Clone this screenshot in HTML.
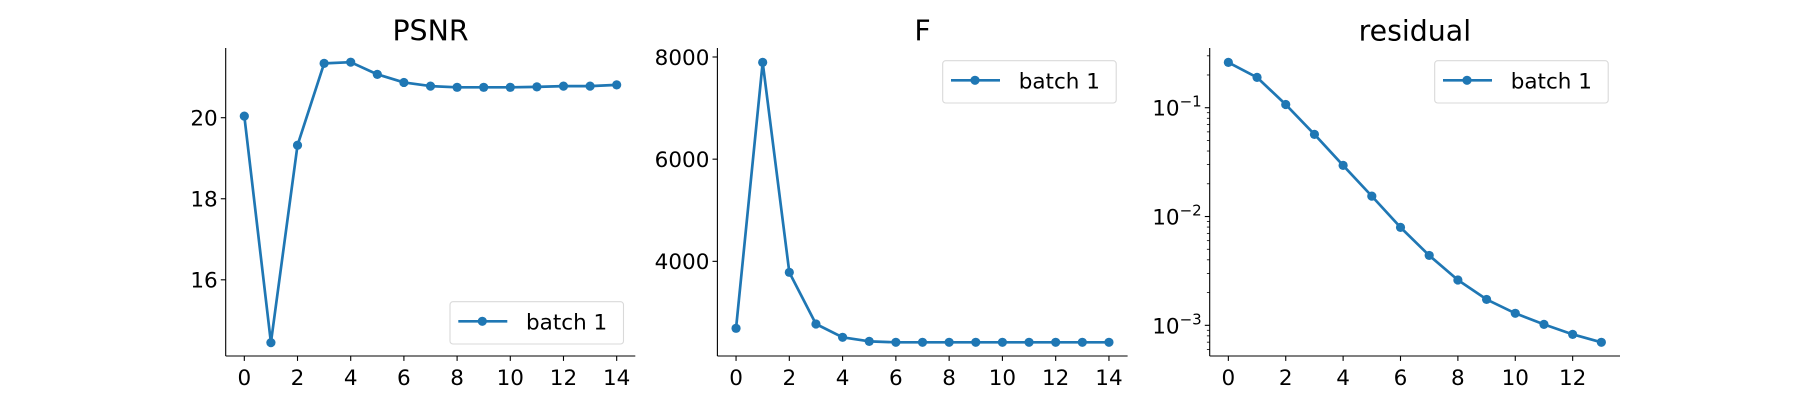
<!DOCTYPE html>
<html><head><meta charset="utf-8"><style>
html,body{margin:0;padding:0;background:#fff;}
svg{display:block;font-family:"DejaVu Sans","Liberation Sans",sans-serif;}
</style></head><body>
<svg id="fig" width="1800" height="400" viewBox="0 0 1800 400" xmlns="http://www.w3.org/2000/svg"></svg>
<script>
const xIdx15 = [0,1,2,3,4,5,6,7,8,9,10,11,12,13,14];
const xIdx14 = [0,1,2,3,4,5,6,7,8,9,10,11,12,13];
const psnrValues = [20.04,14.45,19.32,21.34,21.37,21.07,20.87,20.78,20.75,20.75,20.75,20.76,20.78,20.78,20.81];
const fValues = [2689,7894,3785,2773,2513,2434,2415,2415,2415,2415,2415,2415,2415,2415,2415];
const residualValues = [0.261,0.190,0.107,0.0569,0.0295,0.0154,0.00795,0.00439,0.00261,0.00173,0.00129,0.00102,0.000826,0.000698];
const xTicks15 = [0,2,4,6,8,10,12,14];
const xTicks14 = [0,2,4,6,8,10,12];
const psnrTicks = [16,18,20];
const fTicks = [4000,6000,8000];
const resTicks = [-3,-2,-1];
const seriesName = "batch 1";

const NS="http://www.w3.org/2000/svg";
const svg=document.getElementById('fig');
const C="#1f77b4";
const FS='21.5px';
function el(tag,attrs,parent){const e=document.createElementNS(NS,tag);for(const k in attrs)e.setAttribute(k,attrs[k]);(parent||svg).appendChild(e);return e;}

const TOP=48,BOT=356;
const panels=[
 {name:'psnr',title:'PSNR',x0:225.7,x1:635.3,xmin:-0.7,xmax:14.7,ymin:14.12,ymax:21.72,log:false,xs:xIdx15,ys:psnrValues,xt:xTicks15,yt:psnrTicks,leg:{x:450,y:301.7}},
 {name:'f',title:'F',x0:717.4,x1:1127.6,xmin:-0.7,xmax:14.7,ymin:2147,ymax:8176,log:false,xs:xIdx15,ys:fValues,xt:xTicks15,yt:fTicks,leg:{x:942.7,y:60.7}},
 {name:'residual',title:'residual',x0:1209.7,x1:1620,xmin:-0.65,xmax:13.65,ymin:-3.282,ymax:-0.451,log:true,xs:xIdx14,ys:residualValues,xt:xTicks14,yt:resTicks,leg:{x:1434.7,y:60.7}}
];

panels.forEach(p=>{
  const g=el('g',{});
  
  
  const sx=v=>p.x0+(v-p.xmin)/(p.xmax-p.xmin)*(p.x1-p.x0);
  const sy=v=>{const t=p.log?Math.log10(v):v;return BOT-(t-p.ymin)/(p.ymax-p.ymin)*(BOT-TOP);};
  const syRaw=t=>BOT-(t-p.ymin)/(p.ymax-p.ymin)*(BOT-TOP);
  const tt=el('text',{x:(p.x0+p.x1)/2,y:40.7,'text-anchor':'middle','font-size':'28.4px',fill:'#000'},g);
  tt.textContent=p.title;
  
  
  const ls=el('line',{x1:p.x0,y1:TOP,x2:p.x0,y2:BOT,stroke:'#000','stroke-width':1.1},g);
  
  
  const bs=el('line',{x1:p.x0,y1:BOT,x2:p.x1,y2:BOT,stroke:'#000','stroke-width':1.1},g);
  
  
  p.xt.forEach(v=>{
    const x=sx(v);
    el('line',{x1:x,y1:BOT,x2:x,y2:BOT+4.9,stroke:'#000','stroke-width':1.1},g);
    const t=el('text',{x:x,y:385,'text-anchor':'middle','font-size':FS,fill:'#000'},g);
    t.textContent=v;
    
    
  });
  p.yt.forEach(v=>{
    const y=syRaw(v);
    el('line',{x1:p.x0-4.9,y1:y,x2:p.x0,y2:y,stroke:'#000','stroke-width':1.1},g);
    let t;
    if(p.log){
      t=el('text',{x:p.x0-8,y:y+8,'text-anchor':'end','font-size':FS,fill:'#000'},g);
      const a=el('tspan',{},t);a.textContent='10';
      const b=el('tspan',{dy:-9,'font-size':'15px'},t);b.textContent='\u2212'+(-v);
    } else {
      t=el('text',{x:p.x0-8,y:y+7.8,'text-anchor':'end','font-size':FS,fill:'#000'},g);
      t.textContent=v;
    }
    
    
  });
  if(p.log){
    for(let d=-4;d<=0;d++){for(let m=2;m<=9;m++){
      const tv=d+Math.log10(m);
      if(tv<p.ymin||tv>p.ymax)continue;
      const y=syRaw(tv);
      el('line',{x1:p.x0-2.8,y1:y,x2:p.x0,y2:y,stroke:'#000','stroke-width':0.8},g);
    }}
  }
  const pts=p.xs.map((x,i)=>sx(x).toFixed(2)+','+sy(p.ys[i]).toFixed(2)).join(' ');
  const pl=el('polyline',{points:pts,fill:'none',stroke:C,'stroke-width':2.7,'stroke-linejoin':'round'},g);
  
  
  p.xs.forEach((x,i)=>{
    const c=el('circle',{cx:sx(x),cy:sy(p.ys[i]),r:4.6,fill:C},g);
    
    
  });
  const lg=el('g',{},g);
  
  
  el('rect',{x:p.leg.x,y:p.leg.y,width:173.5,height:42.3,rx:3,fill:'#fff','fill-opacity':0.8,stroke:'#d9d9d9','stroke-width':1.1},lg);
  const cy=p.leg.y+19.6;
  el('line',{x1:p.leg.x+8.3,y1:cy,x2:p.leg.x+57.3,y2:cy,stroke:C,'stroke-width':2.7},lg);
  el('circle',{cx:p.leg.x+32.3,cy:cy,r:4.6,fill:C},lg);
  const lt=el('text',{x:p.leg.x+76,y:cy+8,'font-size':FS,fill:'#000'},lg);
  lt.textContent=seriesName;
  
  
});
</script>
</body></html>
